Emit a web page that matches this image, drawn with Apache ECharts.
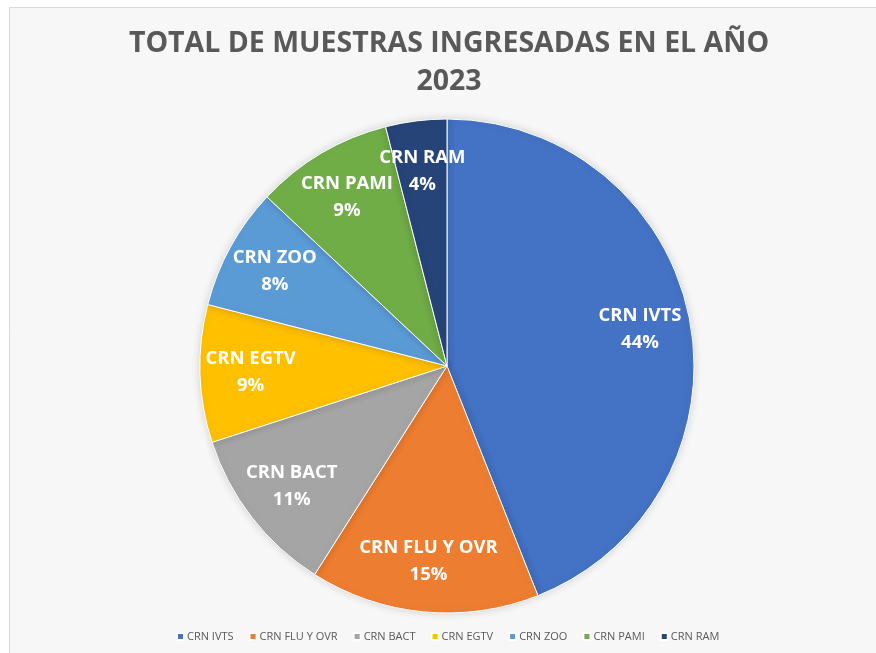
<!DOCTYPE html>
<html>
<head>
<meta charset="utf-8">
<script src="https://cdn.jsdelivr.net/npm/echarts@6/dist/echarts.min.js"></script>
<style>
html,body{margin:0;padding:0;background:#fff;}
#chart{width:876px;height:653px;}
</style>
</head>
<body>
<div id="chart"></div>
<script>
const titleText = 'TOTAL DE MUESTRAS INGRESADAS EN EL AÑO\n2023';
const categories = ['CRN IVTS', 'CRN FLU Y OVR', 'CRN BACT', 'CRN EGTV', 'CRN ZOO', 'CRN PAMI', 'CRN RAM'];
const values = [44, 15, 11, 9, 8, 9, 4];
const colors = ['#4472C4', '#ED7D31', '#A5A5A5', '#FFC000', '#5B9BD5', '#70AD47', '#264478'];

const data = categories.map((c, i) => ({ name: c, value: values[i], itemStyle: { color: colors[i] } }));
const font = '"Open Sans", "Noto Sans", sans-serif';

const chart = echarts.init(document.getElementById('chart'));
chart.setOption({
  backgroundColor: '#ffffff',
  animation: false,
  graphic: [{
    type: 'rect', z: -10,
    shape: { x: 9.5, y: 7.5, width: 900, height: 700 },
    style: { fill: '#f7f7f7', stroke: '#d9d9d9', lineWidth: 1 }
  }],
  title: {
    text: titleText,
    left: 444, top: 20,
    textAlign: 'center',
    textStyle: { fontFamily: font, fontSize: 28.5, fontWeight: 'bold', color: '#595959', lineHeight: 38 }
  },
  legend: {
    bottom: 6, left: 171,
    itemWidth: 7, itemHeight: 7, itemGap: 15,
    icon: 'rect',
    data: categories,
    textStyle: { fontFamily: font, fontSize: 11, color: '#595959', padding: [0, 0, 0, -2] }
  },
  series: [{
    type: 'pie',
    center: [447, 366],
    radius: [0, 247],
    startAngle: 90,
    clockwise: true,
    data: data,
    label: { show: false },
    labelLine: { show: false },
    emphasis: { disabled: true },
    itemStyle: { borderColor: '#ffffff', borderWidth: 1, shadowBlur: 8, shadowColor: 'rgba(0,0,0,0.15)' }
  }, {
    type: 'pie',
    center: [447, 366],
    radius: [142, 245],
    startAngle: 90,
    clockwise: true,
    silent: true,
    avoidLabelOverlap: false,
    minShowLabelAngle: 0,
    data: categories.map((c, i) => ({ name: c, value: values[i] })),
    itemStyle: { color: 'rgba(0,0,0,0)' },
    labelLayout: { hideOverlap: false },
    label: {
      show: true, position: 'inside',
      formatter: '{b}\n{d}%',
      overflow: 'none',
      fontFamily: font, fontSize: 18.5, fontWeight: 'bold', color: '#ffffff', lineHeight: 27
    },
    labelLine: { show: false },
    emphasis: { disabled: true }
  }]
});
</script>
</body>
</html>
